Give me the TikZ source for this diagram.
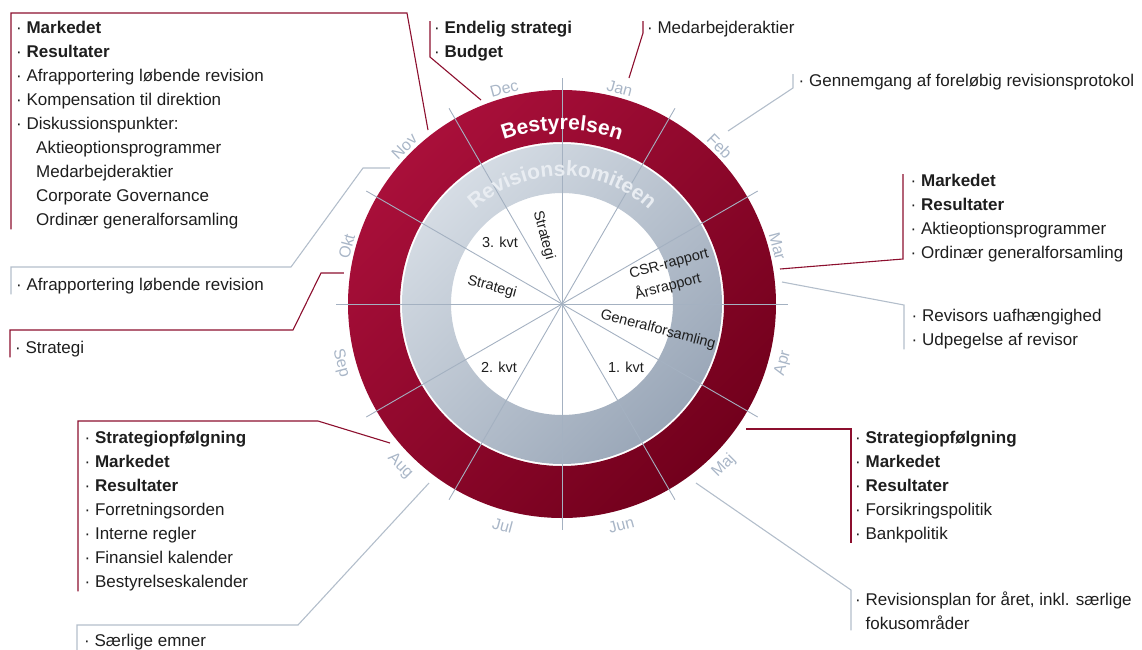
\documentclass[tikz,border=0pt]{standalone}
\usepackage{fontspec}
\setmainfont{Liberation Sans}
\usepackage{xcolor}
\definecolor{awred}{HTML}{A90F3A}
\definecolor{awreddk}{HTML}{72001C}
\definecolor{awgrey}{HTML}{D5DCE4}
\definecolor{awgreydk}{HTML}{9AA7B8}
\definecolor{awspoke}{HTML}{A4B1C1}
\definecolor{awmon}{HTML}{A9B6C7}
\definecolor{awlink}{HTML}{8C0F2E}
\definecolor{awlinkg}{HTML}{B3BECB}
\definecolor{awink}{HTML}{1E1E1E}
\definecolor{awpale}{HTML}{E9EDF2}
\usetikzlibrary{positioning,decorations.text}
\tikzset{
  awlist/.style  ={anchor=north west, align=left, inner xsep=5pt, inner ysep=0pt,
                   font=\fontsize{17}{24}\selectfont, text=awink},
  awredln/.style ={draw=awlink, line width=1.1pt},
  awgreyln/.style={draw=awlinkg, line width=1.1pt},
  awmonth/.style ={font=\fontsize{16}{16}\selectfont, text=awmon, inner sep=0pt},
  awinner/.style ={font=\fontsize{14.5}{22}\selectfont, text=awink, inner sep=0pt},
  awspk/.style   ={draw=awspoke, line width=0.9pt},
}
\newcommand{\itm}{\textperiodcentered\ }

\begin{document}
\begin{tikzpicture}[x=1pt, y=1pt]
  \useasboundingbox (-562,-345) rectangle (580,304);
  % the two rings
  \shade[even odd rule, top color=awred, bottom color=awreddk, shading angle=45]
    (0,0) circle[radius=214] (0,0) circle[radius=162];
  \shade[even odd rule, top color=awgrey, bottom color=awgreydk, shading angle=45]
    (0,0) circle[radius=160] (0,0) circle[radius=111];
  \foreach \a in {0,30,...,330}
    \draw[awspk] (0,0) -- (\a:226);
  % months
  \foreach \m/\a in {Jan/75, Feb/45, Mar/15, Okt/165, Nov/135, Dec/105}
    \node[awmonth, rotate=\a-90] (m\m) at (\a:223) {\m};
  \foreach \m/\a in {Apr/-15, Maj/-45, Jun/-75, Jul/-105, Aug/-135, Sep/-165}
    \node[awmonth, rotate=\a+90] (m\m) at (\a:229) {\m};
  \path[decorate, decoration={text along path, text align=center, text color=white,
        text={|\fontsize{21}{21}\selectfont\bfseries|Bestyrelsen}}]
    (160:174) arc[start angle=160, end angle=20, radius=174];
  \path[decorate, decoration={text along path, text align=center, text color=awpale,
        text={|\fontsize{21}{21}\selectfont\bfseries|Revisionskomiteen}}]
    (170:128) arc[start angle=170, end angle=10, radius=128];
  % inside the wheel
  \node[awinner] (q3) at (-62,62) {3. kvt};
  \node[awinner, rotate=-75] (sdec) at (105:71) {Strategi};
  \node[awinner, rotate=-15] (sokt) at (-70,17) {Strategi};
  \node[awinner, rotate=15, align=left] (csr) at (110,29) {CSR-rapport\\Årsrapport};
  \node[awinner, rotate=-15] (gf) at (96,-26) {Generalforsamling};
  \node[awinner] (q2) at (-63,-63) {2. kvt};
  \node[awinner] (q1) at (64,-63) {1. kvt};
  % lists
  \node[awlist] (bNov) at (-551,283) {\itm\textbf{Markedet}\\ \itm\textbf{Resultater}\\
    \itm Afrapportering løbende revision\\ \itm Kompensation til direktion\\
    \itm Diskussionspunkter:\\ \hspace*{20pt}Aktieoptionsprogrammer\\
    \hspace*{20pt}Medarbejderaktier\\ \hspace*{20pt}Corporate Governance\\
    \hspace*{20pt}Ordinær generalforsamling};
  \node[awlist, inner xsep=4pt] (bDec) at (-132,283) {\itm\textbf{Endelig strategi}\\ \itm\textbf{Budget}};
  \node[awlist, inner xsep=4pt] (bJan) at (81,283) {\itm Medarbejderaktier};
  \node[awlist, inner xsep=5.5pt] (bFeb) at (231,230) {\itm Gennemgang af foreløbig revisionsprotokol};
  \node[awlist, inner xsep=7.5pt] (bMar) at (341,130) {\itm\textbf{Markedet}\\ \itm\textbf{Resultater}\\
    \itm Aktieoptionsprogrammer\\ \itm Ordinær generalforsamling};
  \node[awlist, inner xsep=7.5pt] (bRev) at (342,-5) {\itm Revisors uafhængighed\\ \itm Udpegelse af revisor};
  \node[awlist, inner xsep=4pt] (bMaj) at (289,-127) {\itm\textbf{Strategiopfølgning}\\ \itm\textbf{Markedet}\\
    \itm\textbf{Resultater}\\ \itm Forsikringspolitik\\ \itm Bankpolitik};
  \node[awlist, inner xsep=4pt] (bPlan) at (289,-288) {\itm Revisionsplan for året, inkl. særlige\\
    \hphantom{\itm}fokusområder};
  \node[awlist, inner xsep=6.5pt] (bAug) at (-484,-127) {\itm\textbf{Strategiopfølgning}\\ \itm\textbf{Markedet}\\
    \itm\textbf{Resultater}\\ \itm Forretningsorden\\ \itm Interne regler\\
    \itm Finansiel kalender\\ \itm Bestyrelseskalender};
  \node[awlist, inner xsep=7pt] (bSpec) at (-485,-330) {\itm Særlige emner};
  \node[awlist] (bOkt) at (-552,-37) {\itm Strategi};
  \node[awlist] (bAfr) at (-551,26) {\itm Afrapportering løbende revision};
  % connectors
  \coordinate (cNov) at (-134,174);  \coordinate (kNov) at (-155,291);
  \coordinate (cDec) at (-81,204);   \coordinate (kDec) at (-132,247);
  \coordinate (cJan) at (67,226);    \coordinate (kJan) at (81,271);
  \coordinate (cFeb) at (166,173);   \coordinate (kFeb) at (231,216);
  \coordinate (cMar) at (218,35);    \coordinate (kMar) at (341,45);
  \coordinate (cRev) at (220,22);    \coordinate (kRev) at (342,-1);
  \coordinate (cMaj) at (184,-125);  \coordinate (kMaj) at (289,-125);
  \coordinate (cPlan) at (134,-179); \coordinate (kPlan) at (289,-286);
  \coordinate (cAug) at (-172,-139); \coordinate (kAug) at (-244,-117);
  \coordinate (cSpec) at (-133,-179);\coordinate (kSpec) at (-264,-321);
  \coordinate (cOkt) at (-218,31);   \coordinate (kOkt) at (-241,31);  \coordinate (lOkt) at (-269,-26);
  \coordinate (cAfr) at (-172,136);  \coordinate (kAfr) at (-199,136); \coordinate (lAfr) at (-271,37);
  \draw[awredln] (cNov) -- (kNov) -- (kNov -| bNov.west) -- (bNov.south west);
  \draw[awredln] (cDec) -- (kDec) -- (kDec |- bDec.north west);
  \draw[awredln] (cJan) -- (kJan) -- (kJan |- bJan.north west);
  \draw[awgreyln] (cFeb) -- (kFeb) -- (kFeb |- bFeb.north west);
  \draw[awredln] (cMar) -- (kMar) -- (kMar |- bMar.north west);
  \draw[awgreyln] (cRev) -- (kRev) -- (kRev |- bRev.south west);
  \draw[awredln] (cMaj) -- (kMaj) -- (kMaj |- bMaj.south west);
  \draw[awgreyln] (cPlan) -- (kPlan) -- (kPlan |- bPlan.south west);
  \draw[awredln] (cAug) -- (kAug) -- (kAug -| bAug.west) -- (bAug.south west);
  \draw[awgreyln] (cSpec) -- (kSpec) -- (kSpec -| bSpec.west) -- (bSpec.south west);
  \draw[awredln] (cOkt) -- (kOkt) -- (lOkt) -- (lOkt -| bOkt.west) -- (bOkt.south west);
  \draw[awgreyln] (cAfr) -- (kAfr) -- (lAfr) -- (lAfr -| bAfr.west) -- (bAfr.south west);
\end{tikzpicture}
\end{document}
